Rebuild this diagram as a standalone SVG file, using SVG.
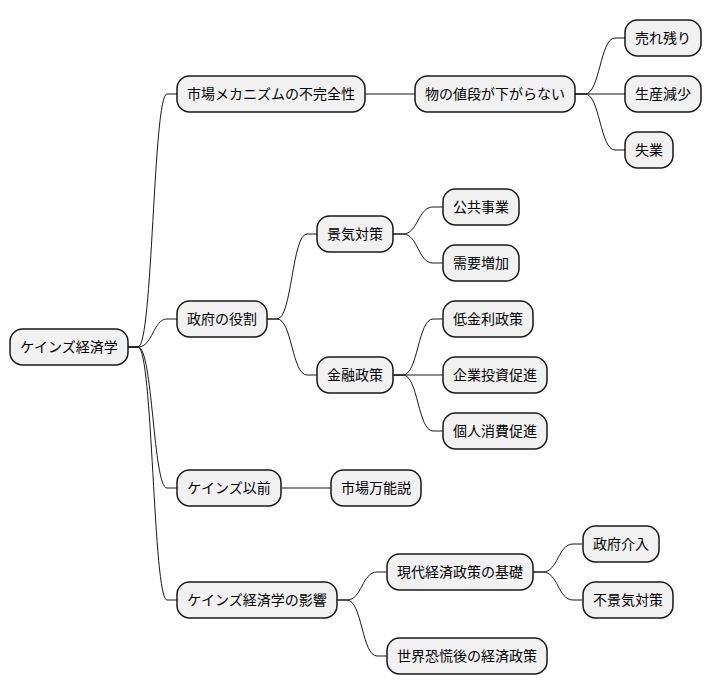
<svg xmlns="http://www.w3.org/2000/svg" width="712" height="696" viewBox="0 0 712 696">
<style>
.n rect{fill:#F1F1F1;stroke:#181818;stroke-width:1.5}
.n text{font-family:"Noto Sans CJK JP","Noto Sans",sans-serif;font-size:14px;fill:#000;text-anchor:middle}
#edges path{fill:none;stroke:#181818;stroke-width:1}
</style>
<rect width="712" height="696" fill="#FFFFFF"/>
<g id="edges">
<path d="M128,347 L138,347 C153,347 153,94 167,94 L177,94"/>
<path d="M128,347 L138,347 C153,347 153,319 167,319 L177,319"/>
<path d="M128,347 L138,347 C153,347 153,488 167,488 L177,488"/>
<path d="M128,347 L138,347 C153,347 153,600 167,600 L177,600"/>
<path d="M365,94 L415,94"/>
<path d="M575,94 L585,94 C600,94 600,38 615,38 L625,38"/>
<path d="M575,94 L625,94"/>
<path d="M575,94 L585,94 C600,94 600,150 615,150 L625,150"/>
<path d="M267,319 L277,319 C292,319 292,234 307,234 L317,234"/>
<path d="M267,319 L277,319 C292,319 292,375 307,375 L317,375"/>
<path d="M393,234 L403,234 C418,234 418,207 433,207 L443,207"/>
<path d="M393,234 L403,234 C418,234 418,263 433,263 L443,263"/>
<path d="M393,375 L403,375 C418,375 418,319 433,319 L443,319"/>
<path d="M393,375 L443,375"/>
<path d="M393,375 L403,375 C418,375 418,431 433,431 L443,431"/>
<path d="M281,488 L331,488"/>
<path d="M337,600 L347,600 C362,600 362,572 377,572 L387,572"/>
<path d="M337,600 L347,600 C362,600 362,656 377,656 L387,656"/>
<path d="M533,572 L543,572 C558,572 558,544 573,544 L583,544"/>
<path d="M533,572 L543,572 C558,572 558,600 573,600 L583,600"/>
</g>
<g id="root" class="n"><rect x="10" y="329" width="118" height="36" rx="12.5"/><text x="69" y="352">ケインズ経済学</text></g>
<g id="n1" class="n"><rect x="177" y="76" width="188" height="36" rx="12.5"/><text x="271" y="99">市場メカニズムの不完全性</text></g>
<g id="n2" class="n"><rect x="415" y="76" width="160" height="36" rx="12.5"/><text x="495" y="99">物の値段が下がらない</text></g>
<g id="n3" class="n"><rect x="625" y="20" width="76" height="36" rx="12.5"/><text x="663" y="43">売れ残り</text></g>
<g id="n4" class="n"><rect x="625" y="76" width="76" height="36" rx="12.5"/><text x="663" y="99">生産減少</text></g>
<g id="n5" class="n"><rect x="625" y="132" width="48" height="36" rx="12.5"/><text x="649" y="155">失業</text></g>
<g id="n6" class="n"><rect x="177" y="301" width="90" height="36" rx="12.5"/><text x="222" y="324">政府の役割</text></g>
<g id="n7" class="n"><rect x="317" y="216" width="76" height="36" rx="12.5"/><text x="355" y="239">景気対策</text></g>
<g id="n8" class="n"><rect x="443" y="189" width="76" height="36" rx="12.5"/><text x="481" y="212">公共事業</text></g>
<g id="n9" class="n"><rect x="443" y="245" width="76" height="36" rx="12.5"/><text x="481" y="268">需要増加</text></g>
<g id="n10" class="n"><rect x="317" y="357" width="76" height="36" rx="12.5"/><text x="355" y="380">金融政策</text></g>
<g id="n11" class="n"><rect x="443" y="301" width="90" height="36" rx="12.5"/><text x="488" y="324">低金利政策</text></g>
<g id="n12" class="n"><rect x="443" y="357" width="104" height="36" rx="12.5"/><text x="495" y="380">企業投資促進</text></g>
<g id="n13" class="n"><rect x="443" y="413" width="104" height="36" rx="12.5"/><text x="495" y="436">個人消費促進</text></g>
<g id="n14" class="n"><rect x="177" y="470" width="104" height="36" rx="12.5"/><text x="229" y="493">ケインズ以前</text></g>
<g id="n15" class="n"><rect x="331" y="470" width="90" height="36" rx="12.5"/><text x="376" y="493">市場万能説</text></g>
<g id="n16" class="n"><rect x="177" y="582" width="160" height="36" rx="12.5"/><text x="257" y="605">ケインズ経済学の影響</text></g>
<g id="n17" class="n"><rect x="387" y="554" width="146" height="36" rx="12.5"/><text x="460" y="577">現代経済政策の基礎</text></g>
<g id="n18" class="n"><rect x="583" y="526" width="76" height="36" rx="12.5"/><text x="621" y="549">政府介入</text></g>
<g id="n19" class="n"><rect x="583" y="582" width="90" height="36" rx="12.5"/><text x="628" y="605">不景気対策</text></g>
<g id="n20" class="n"><rect x="387" y="638" width="160" height="36" rx="12.5"/><text x="467" y="661">世界恐慌後の経済政策</text></g>
</svg>
